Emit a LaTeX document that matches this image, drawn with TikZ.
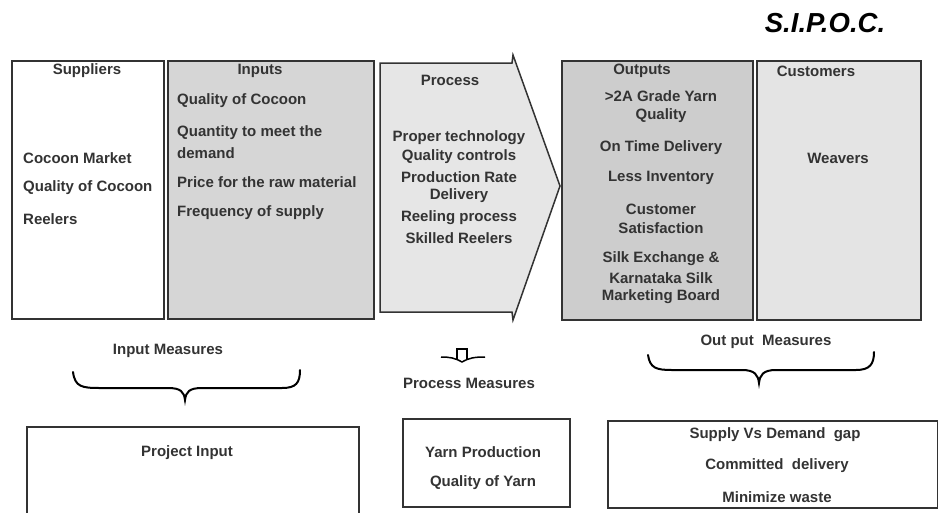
\documentclass[tikz,border=0pt]{standalone}
\usepackage{fontspec}
\setmainfont{Liberation Sans}
\definecolor{inpgray}{HTML}{D6D6D6}
\definecolor{procgray}{HTML}{E6E6E6}
\definecolor{outgray}{HTML}{CDCDCD}
\definecolor{custgray}{HTML}{E4E4E4}
\definecolor{edge}{HTML}{333333}
\begin{document}
\begin{tikzpicture}[x=1pt,y=-1pt,
  txt/.style={inner sep=0pt, font=\fontsize{15}{18}\selectfont\bfseries, text=black!80},
  colbox/.style={draw=edge, line width=1.5pt, inner sep=0pt, anchor=north west},
  brace/.style={draw=black, line width=2pt, line cap=round},
]
\useasboundingbox (0,0) rectangle (938,512);

% title
\node[inner sep=0pt, font=\fontsize{27.5}{32}\selectfont\bfseries\itshape] (title) at (825,23) {S.I.P.O.C.};

% column boxes
\node[colbox, fill=white, minimum width=152pt, minimum height=258pt] (supbox) at (11,60) {};
\node[colbox, fill=inpgray, minimum width=206pt, minimum height=258pt] (inpbox) at (167,60) {};
\filldraw[draw=edge, fill=procgray, line width=1.5pt, line join=miter]
  (380,63) -- (512,63) -- (513,55) -- (560,186) -- (513,320) -- (512,312) -- (380,312) -- cycle;
\node[colbox, fill=outgray, minimum width=191pt, minimum height=259pt] (outbox) at (561,60) {};
\node[colbox, fill=custgray, minimum width=164pt, minimum height=259pt] (custbox) at (756,60) {};

% suppliers
\node[txt] (suphead) at (87,71) {Suppliers};
\node[txt, anchor=west] (sup1) at (23,158) {Cocoon Market};
\node[txt, anchor=west] (sup2) at (23,188) {Quality of Cocoon};
\node[txt, anchor=west] (sup3) at (23,219) {Reelers};

% inputs
\node[txt] (inphead) at (260,71) {Inputs};
\node[txt, anchor=west] (inp1) at (177,101) {Quality of Cocoon};
\node[txt, anchor=west] (inp2) at (177,133) {Quantity to meet the};
\node[txt, anchor=west] (inp2b) at (177,153) {demand};
\node[txt, anchor=west] (inp3) at (177,182) {Price for the raw material};
\node[txt, anchor=west] (inp4) at (177,213) {Frequency of supply};

% process
\node[txt] (prochead) at (450,80) {Process};
\node[txt] (proc1) at (459,138) {Proper technology};
\node[txt] (proc2) at (459,157) {Quality controls};
\node[txt] (proc3) at (459,177) {Production Rate};
\node[txt] (proc4) at (459,196) {Delivery};
\node[txt] (proc5) at (459,218) {Reeling process};
\node[txt] (proc6) at (459,238) {Skilled Reelers};

% outputs
\node[txt] (outhead) at (642,71) {Outputs};
\node[txt] (out1) at (661,96) {>2A Grade Yarn};
\node[txt] (out1b) at (661,116) {Quality};
\node[txt] (out2) at (661,148) {On Time Delivery};
\node[txt] (out3) at (661,178) {Less Inventory};
\node[txt] (out4) at (661,209) {Customer};
\node[txt] (out4b) at (661,228) {Satisfaction};
\node[txt] (out5) at (661,259) {Silk Exchange \&};
\node[txt] (out5b) at (661,278) {Karnataka Silk};
\node[txt] (out5c) at (661,297) {Marketing Board};

% customers
\node[txt] (custhead) at (816,71) {Customers};
\node[txt] (cust1) at (838,158) {Weavers};

% input measures
\node[txt] (inmeas) at (168,351) {Input Measures};
\draw[brace] (73,372) .. controls (75,387) and (82,388) .. (100,388) -- (168,388)
  .. controls (181,388) and (184,392) .. (185,400)
  .. controls (186,392) and (189,388) .. (202,388) -- (282,388)
  .. controls (296,388) and (300,383) .. (300,370);
\draw[edge, line width=1.5pt] (27,520) -- (27,427) -- (359,427) -- (359,520);
\node[txt] (projin) at (187,453) {Project Input};

% process measures
\draw[black, line width=2pt] (457,360) -- (457,349) -- (467,349) -- (467,360);
\draw[black, line width=1.5pt] (441,357) .. controls (450,357) and (455,358) .. (462,362)
  .. controls (469,358) and (474,357) .. (485,357);
\node[txt] (procmeas) at (469,383) {Process Measures};
\node[draw=edge, line width=1.5pt, inner sep=0pt, anchor=north west, minimum width=167pt, minimum height=88pt] (yarnbox) at (402,418) {};
\node[txt] (yarn1) at (483,452) {Yarn Production};
\node[txt] (yarn2) at (483,483) {Quality of Yarn};

% output measures
\node[txt] (outmeas) at (766,342) {Out put\ \ Measures};
\draw[brace] (648,355) .. controls (650,368) and (656,370) .. (672,370) -- (742,370)
  .. controls (755,370) and (758,375) .. (759,383)
  .. controls (760,375) and (763,370) .. (776,370) -- (856,370)
  .. controls (870,370) and (874,364) .. (874,352);
\node[draw=edge, line width=1.5pt, inner sep=0pt, anchor=north west, minimum width=330pt, minimum height=87pt] (omeasbox) at (607,420) {};
\node[txt] (om1) at (775,435) {Supply Vs Demand\ \ gap};
\node[txt] (om2) at (777,466) {Committed\ \ delivery};
\node[txt] (om3) at (777,497) {Minimize waste};
\end{tikzpicture}
\end{document}
